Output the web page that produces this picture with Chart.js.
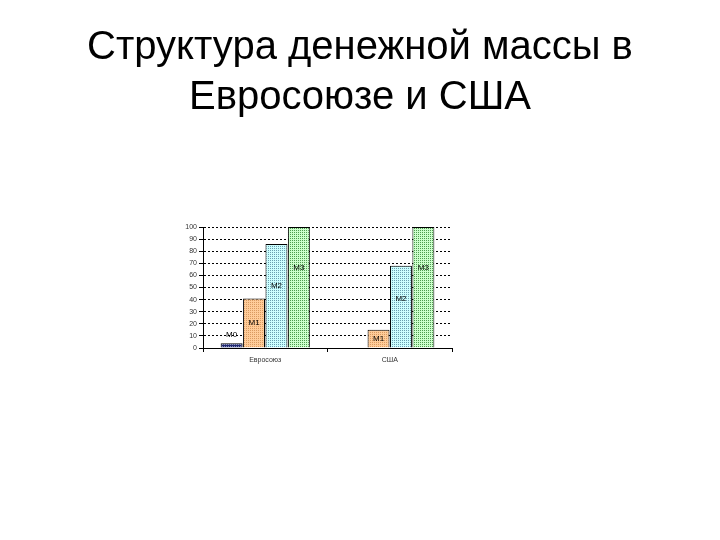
<!DOCTYPE html>
<html>
<head>
<meta charset="utf-8">
<script src="https://cdn.jsdelivr.net/npm/chart.js@4"></script>
<style>
html,body{margin:0;padding:0;background:#fff;}
#title{position:absolute;left:0;top:20px;width:720px;text-align:center;font-family:"Liberation Sans",Arial,sans-serif;font-size:40px;line-height:50px;color:#000;}
#wrap{position:absolute;left:0;top:0;width:720px;height:540px;}
</style>
</head>
<body>
<div id="wrap"><canvas id="c" width="720" height="540"></canvas></div>
<div id="title"></div>
<script>
const titleLines = ['Структура денежной массы в', 'Евросоюзе и США'];
const categories = ['Евросоюз', 'США'];
const seriesNames = ['M0', 'M1', 'M2', 'M3'];
const m0Values = [4, 0];
const m1Values = [41, 15];
const m2Values = [86, 68];
const m3Values = [100, 100];
const yTickValues = [0, 10, 20, 30, 40, 50, 60, 70, 80, 90, 100];

const titleEl = document.getElementById('title');
titleLines.forEach(t => { const d = document.createElement('div'); d.textContent = t; titleEl.appendChild(d); });

function makePattern(bg, dot) {
  const p = document.createElement('canvas');
  p.width = 2; p.height = 2;
  const g = p.getContext('2d');
  g.fillStyle = bg; g.fillRect(0, 0, 2, 2);
  g.fillStyle = dot; g.fillRect(0, 0, 1, 1);
  return g.createPattern(p, 'repeat');
}

const fills = [
  makePattern('#1f2870', '#8890c0'),
  makePattern('#ffcc99', '#d99a60'),
  makePattern('#ccffff', '#6a9fb0'),
  makePattern('#ccffcc', '#4f9a4f')
];
const labelFrac = [0.5, 0.5, 0.6, 0.66];
const allValues = [m0Values, m1Values, m2Values, m3Values];

const labelPlugin = {
  id: 'barLabels',
  afterDatasetsDraw(chart) {
    const ctx = chart.ctx;
    const ys = chart.scales.y;
    ctx.save();
    ctx.font = '8px "Liberation Sans", Arial, sans-serif';
    ctx.fillStyle = '#000';
    ctx.textAlign = 'center';
    ctx.textBaseline = 'middle';
    chart.data.datasets.forEach((ds, di) => {
      const meta = chart.getDatasetMeta(di);
      meta.data.forEach((bar, i) => {
        const v = ds.data[i];
        if (!v) return;
        let y;
        if (v < 10) y = ys.getPixelForValue(v) - 8;
        else y = ys.getPixelForValue(v * labelFrac[di]);
        ctx.fillText(ds.label, bar.x, y);
      });
    });
    ctx.restore();
  }
};

new Chart(document.getElementById('c'), {
  type: 'bar',
  data: {
    labels: categories,
    datasets: seriesNames.map((n, i) => ({
      label: n,
      data: allValues[i],
      backgroundColor: fills[i],
      borderColor: '#000',
      borderWidth: 1,
      borderSkipped: 'bottom',
      categoryPercentage: 0.72,
      barPercentage: 0.98
    }))
  },
  options: {
    responsive: false,
    devicePixelRatio: 1,
    animation: false,
    layout: { padding: { left: 168, right: 268, top: 227, bottom: 170 } },
    plugins: {
      legend: { display: false },
      tooltip: { enabled: false },
      title: { display: false }
    },
    scales: {
      x: {
        grid: { drawOnChartArea: false, drawTicks: true, tickLength: 4, color: '#000', offset: true },
        border: { display: true, color: '#000', width: 1 },
        ticks: { color: '#333', font: { family: '"Liberation Sans", Arial, sans-serif', size: 7 }, padding: 4 },
        afterFit(s) { s.height = 22; }
      },
      y: {
        min: 0, max: 100,
        afterBuildTicks(s) { s.ticks = yTickValues.map(v => ({ value: v })); },
        grid: { color: '#000', lineWidth: 1, tickLength: 4, tickBorderDash: [], drawTicks: true },
        border: { display: true, color: '#000', width: 1, dash: [2, 2] },
        ticks: { color: '#333', font: { family: '"Liberation Sans", Arial, sans-serif', size: 7 }, padding: 2 },
        afterFit(s) { s.width = 35; }
      }
    }
  },
  plugins: [labelPlugin]
});
</script>
</body>
</html>
